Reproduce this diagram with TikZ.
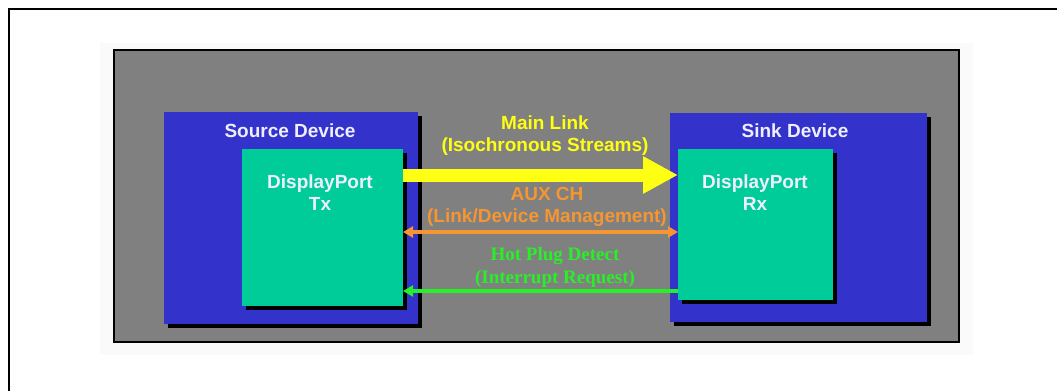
\documentclass[tikz,border=0pt]{standalone}
\usepackage{fontspec}
\setmainfont{Liberation Sans}
\newfontfamily\hpdfont{Liberation Serif}
\usetikzlibrary{arrows.meta,shadows}
\definecolor{panelgray}{RGB}{128,128,128}
\definecolor{devblue}{RGB}{51,51,204}
\definecolor{dpgreen}{RGB}{0,204,153}
\definecolor{labelwhite}{RGB}{238,238,255}
\definecolor{linkyellow}{RGB}{255,255,20}
\definecolor{auxorange}{RGB}{245,150,50}
\definecolor{hpdgreen}{RGB}{40,240,40}
\tikzset{
  bigfont/.style={font=\bfseries\fontsize{19}{22}\selectfont},
  box/.style={anchor=north west,inner sep=0pt,outer sep=0pt,
    drop shadow={shadow xshift=3.5pt,shadow yshift=-3.5pt,fill=black,opacity=1}},
  device/.style={box,fill=devblue},
  dport/.style={box,fill=dpgreen},
  caption/.style={bigfont,text=labelwhite,align=center,inner sep=0pt},
}
\begin{document}
\begin{tikzpicture}[x=1pt,y=-1pt,>={Triangle[length=10pt,width=11pt]}]
  \useasboundingbox (0,0) rectangle (1057,391);
  % Rahmen
  \draw[line width=2pt] (9.3,391) -- (9.3,9.3) -- (1057,9.3);
  \fill[black!2] (100,43) rectangle (973,355);
  \draw[line width=2pt,fill=panelgray] (114,50) rectangle (959,342);
  % Geraete
  \node[device,minimum width=254pt,minimum height=212pt] (src) at (164,112) {};
  \node[device,minimum width=257pt,minimum height=209pt] (sink) at (670,113) {};
  \node[dport,minimum width=161pt,minimum height=157pt] (Tx) at (242,149) {};
  \node[dport,minimum width=155pt,minimum height=151pt] (Rx) at (678,149) {};
  \node[caption] (srclabel) at (290,131) {Source Device};
  \node[caption] (sinklabel) at (795,131) {Sink Device};
  \node[caption] (txlabel) at (320,193) {DisplayPort\\Tx};
  \node[caption] (rxlabel) at (755,193) {DisplayPort\\Rx};
  % Verbindungen
  \draw[linkyellow,line width=13pt,-{Triangle[length=35pt,width=35pt]}]
    ([yshift=-26pt]Tx.north east) -- ([yshift=-26pt]Rx.north west);
  \draw[auxorange,line width=3.5pt,<->]
    ([yshift=-83pt]Tx.north east) -- ([yshift=-83pt]Rx.north west);
  \draw[hpdgreen,line width=3.5pt,->]
    ([yshift=-142pt]Rx.north west) -- ([yshift=-142pt]Tx.north east);
  \node[caption,text=linkyellow] (mainlink) at (545,136) {Main Link\\(Isochronous Streams)};
  \node[caption,text=auxorange] (auxch) at (547,207) {AUX CH\\(Link/Device Management)};
  \node[caption,text=hpdgreen,font=\hpdfont\bfseries\fontsize{19}{23}\selectfont] (hpd) at (555,267) {Hot Plug Detect\\(Interrupt Request)};
\end{tikzpicture}
\end{document}
